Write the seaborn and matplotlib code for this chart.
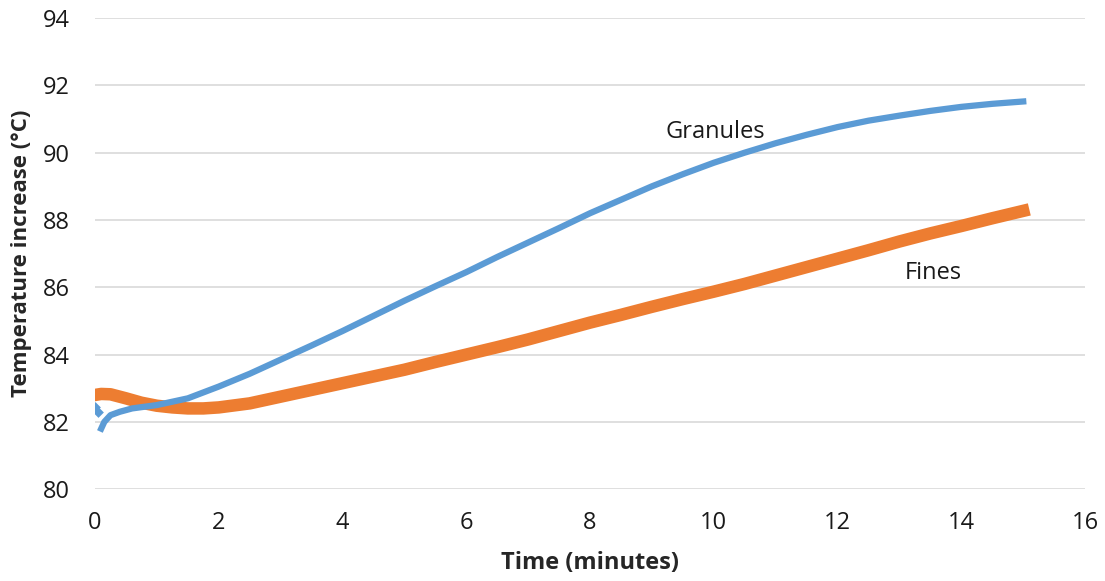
import matplotlib
matplotlib.use("Agg")
import matplotlib.pyplot as plt
import seaborn as sns
import pandas as pd

# Granules (blue)
gran_time = [0.0, 0.05, 0.1, 0.15, 0.25, 0.4, 0.6, 1.0, 1.5, 2.0, 2.5, 3.0, 3.5, 4.0, 4.5, 5.0,
             5.5, 6.0, 6.5, 7.0, 7.5, 8.0, 8.5, 9.0, 9.5, 10.0, 10.5, 11.0, 11.5, 12.0, 12.5,
             13.0, 13.5, 14.0, 14.5, 15.0]
gran_temp = [82.45, 82.3, 81.8, 82.0, 82.2, 82.3, 82.4, 82.5, 82.7, 83.05, 83.43, 83.85, 84.27,
             84.7, 85.15, 85.6, 86.03, 86.45, 86.9, 87.33, 87.76, 88.2, 88.6, 89.0, 89.36, 89.7,
             90.0, 90.28, 90.53, 90.76, 90.95, 91.1, 91.24, 91.36, 91.45, 91.52]

# Fines (orange)
fines_time = [0.0, 0.1, 0.25, 0.5, 0.75, 1.0, 1.25, 1.5, 1.75, 2.0, 2.5, 3.0, 3.5, 4.0, 4.5, 5.0,
              5.5, 6.0, 6.5, 7.0, 7.5, 8.0, 8.5, 9.0, 9.5, 10.0, 10.5, 11.0, 11.5, 12.0, 12.5,
              13.0, 13.5, 14.0, 14.5, 15.0]
fines_temp = [82.8, 82.83, 82.82, 82.7, 82.57, 82.48, 82.43, 82.4, 82.4, 82.43, 82.55, 82.75,
              82.95, 83.15, 83.35, 83.55, 83.78, 84.0, 84.22, 84.45, 84.7, 84.95, 85.18, 85.42,
              85.65, 85.87, 86.1, 86.35, 86.6, 86.85, 87.1, 87.36, 87.6, 87.82, 88.05, 88.27]

x_ticks = [0, 2, 4, 6, 8, 10, 12, 14, 16]
y_ticks = [80, 82, 84, 86, 88, 90, 92, 94]

sns.set_style("white")
plt.rcParams["font.family"] = ["Open Sans", "DejaVu Sans"]

df_g = pd.DataFrame({"Time": gran_time, "Temp": gran_temp})
df_f = pd.DataFrame({"Time": fines_time, "Temp": fines_temp})
df_g_start = df_g.iloc[:2]
df_g_line = df_g.iloc[2:]

BLUE = "#5B9BD5"
ORANGE = "#ED7D31"

fig = plt.figure(figsize=(11.05, 5.81), dpi=100)
ax = fig.add_axes([0.086, 0.158, 0.896, 0.811])

sns.lineplot(data=df_f, x="Time", y="Temp", ax=ax, color=ORANGE, linewidth=9,
             solid_capstyle="projecting", solid_joinstyle="round", zorder=2)
sns.lineplot(data=df_g_line, x="Time", y="Temp", ax=ax, color=BLUE, linewidth=4.5,
             solid_capstyle="projecting", solid_joinstyle="round", zorder=3)
sns.scatterplot(data=df_g_start, x="Time", y="Temp", ax=ax, color=BLUE, marker="D",
                s=30, linewidth=0, zorder=3)

ax.set_xlim(0, 16)
ax.set_ylim(80, 94)
ax.set_xticks(x_ticks)
ax.set_yticks(y_ticks)
ax.set_xticklabels([str(v) for v in x_ticks], fontsize=17, color="#1a1a1a")
ax.set_yticklabels([str(v) for v in y_ticks], fontsize=17, color="#1a1a1a")
ax.tick_params(axis="x", length=0, pad=16)
ax.tick_params(axis="y", length=0, pad=18)
ax.yaxis.grid(True, color="#D9D9D9", linewidth=1.2)
ax.xaxis.grid(False)
ax.set_axisbelow(True)
for s in ax.spines.values():
    s.set_visible(False)

ax.set_xlabel("Time (minutes)", fontsize=17, fontweight="bold", va="center")
ax.xaxis.set_label_coords(0.5, (489 - 562.5) / 471)
ax.set_ylabel("Temperature increase (°C)", fontsize=16, fontweight="bold", va="center")
ax.yaxis.set_label_coords((21 - 95) / 990, 0.5)

ax.text(10.03, 90.6, "Granules", fontsize=17, ha="center", va="center", color="#1a1a1a")
ax.text(13.54, 86.43, "Fines", fontsize=17, ha="center", va="center", color="#1a1a1a")

fig.savefig("out.png", dpi=100)
